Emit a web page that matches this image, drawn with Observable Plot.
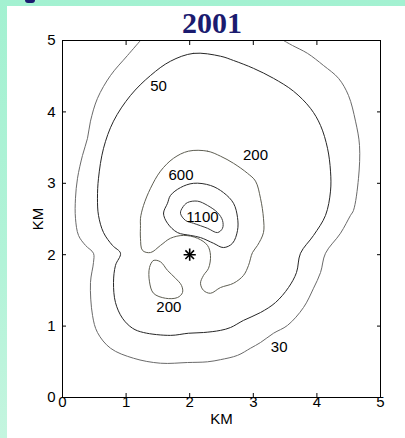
<!DOCTYPE html>
<html>
<head>
<meta charset="utf-8">
<script src="https://cdn.jsdelivr.net/npm/d3@7"></script>
<script src="https://cdn.jsdelivr.net/npm/@observablehq/plot@0.6"></script>
<style>
  html, body { margin: 0; padding: 0; width: 405px; height: 438px; overflow: hidden; }
  body { background: linear-gradient(to bottom, #a3f1d1 0%, #b2f3d8 60%, #c4f5df 100%); position: relative; font-family: "Liberation Sans", Arial, sans-serif; }
  #panel { position: absolute; left: 7px; top: 6px; right: 0; bottom: 0; background: #ffffff; }
  #blob { position: absolute; left: 25px; top: 0; width: 10px; height: 3px; background: #1b1b6f; border-radius: 0 0 3px 3px; }
  #title { position: absolute; left: 112px; width: 200px; top: 8px; text-align: center; font: bold 30px/30px "Liberation Serif", "Times New Roman", serif; color: #1b1b6f; }
  #chart { position: absolute; left: 0; top: 0; }
</style>
</head>
<body>
<div id="panel"></div>
<div id="blob"></div>
<div id="title">2001</div>
<div id="chart"></div>
<script>
// Axis ticks (KM)
const xTicks = [0, 1, 2, 3, 4, 5];
const yTicks = [0, 1, 2, 3, 4, 5];

// Contour polylines, [x KM, y KM]
const contour30 = [[1.226,5.0],[1.022,4.79],[0.755,4.51],[0.550,4.19],[0.440,3.87],[0.393,3.63],[0.314,3.39],[0.236,3.07],[0.204,2.79],[0.204,2.51],[0.252,2.27],[0.362,2.13],[0.487,2.02],[0.487,1.89],[0.440,1.61],[0.472,1.15],[0.550,0.91],[0.755,0.69],[1.116,0.55],[1.541,0.48],[1.965,0.49],[2.280,0.50],[2.484,0.53],[2.752,0.59],[2.956,0.69],[3.113,0.77],[3.318,0.90],[3.538,1.01],[3.789,1.26],[3.947,1.53],[4.057,1.75],[4.135,2.02],[4.371,2.30],[4.528,2.55],[4.575,2.62],[4.654,3.07],[4.670,3.53],[4.607,3.87],[4.497,4.23],[4.340,4.47],[4.104,4.65],[3.852,4.82],[3.616,4.93],[3.475,5.0]];
const contour50 = [[2.484,4.78],[2.060,4.82],[1.698,4.71],[1.384,4.51],[1.069,4.23],[0.802,3.87],[0.645,3.49],[0.566,3.07],[0.550,2.79],[0.566,2.55],[0.645,2.31],[0.786,2.13],[0.912,2.02],[0.833,1.85],[0.802,1.61],[0.833,1.33],[0.943,1.11],[1.101,0.97],[1.274,0.91],[1.698,0.87],[1.981,0.90],[2.217,0.91],[2.484,0.94],[2.642,0.98],[2.846,1.08],[3.113,1.19],[3.349,1.33],[3.553,1.54],[3.679,1.75],[3.742,2.02],[3.947,2.27],[4.135,2.55],[4.214,2.89],[4.214,3.17],[4.167,3.49],[4.057,3.81],[3.899,4.05],[3.632,4.29],[3.318,4.47],[3.003,4.61],[2.689,4.72]];
const contour200 = [[1.981,3.45],[2.280,3.45],[2.484,3.38],[2.689,3.28],[2.909,3.14],[3.035,3.03],[3.113,2.79],[3.160,2.51],[3.160,2.31],[3.066,2.13],[2.987,2.03],[2.925,1.85],[2.846,1.71],[2.689,1.60],[2.484,1.54],[2.327,1.46],[2.217,1.50],[2.170,1.60],[2.217,1.71],[2.296,1.81],[2.327,1.99],[2.280,2.13],[2.123,2.23],[1.903,2.27],[1.698,2.23],[1.541,2.13],[1.384,2.03],[1.258,2.06],[1.226,2.23],[1.226,2.41],[1.226,2.51],[1.274,2.69],[1.384,2.93],[1.541,3.17],[1.745,3.35]];
const contour200b = [[1.368,1.82],[1.431,1.92],[1.541,1.90],[1.651,1.78],[1.777,1.67],[1.871,1.57],[1.887,1.47],[1.808,1.40],[1.619,1.39],[1.431,1.46],[1.368,1.62]];
const contour600 = [[1.651,2.72],[1.588,2.58],[1.651,2.44],[1.808,2.31],[2.013,2.27],[2.170,2.24],[2.374,2.16],[2.531,2.10],[2.673,2.16],[2.752,2.34],[2.752,2.52],[2.689,2.72],[2.531,2.87],[2.327,2.97],[2.060,3.00],[1.855,2.94],[1.698,2.83]];
const contour1100 = [[1.965,2.73],[1.887,2.66],[1.855,2.58],[1.934,2.48],[2.060,2.44],[2.280,2.37],[2.437,2.31],[2.516,2.37],[2.516,2.48],[2.437,2.59],[2.280,2.69],[2.123,2.75]];

// Contour labels
const labelText = ["50", "200", "600", "1100", "200", "30"];
const labelX = [1.509, 3.035, 1.863, 2.201, 1.672, 3.407];
const labelY = [4.356, 3.39, 3.11, 2.52, 1.26, 0.70];

// Source marker
const sourceX = [2.0];
const sourceY = [2.0];

const toRows = (pts) => pts.map(([x, y]) => ({x, y}));
const openLines = [
  {pts: contour30, stroke: "#6a6a6a"}
];
const closedLines = [
  {pts: contour50, stroke: "#262626"},
  {pts: contour200, stroke: "#5e5e52"},
  {pts: contour200b, stroke: "#5e5e52"},
  {pts: contour600, stroke: "#2a2a2a"},
  {pts: contour1100, stroke: "#3a3a3a"}
];
const labels = labelText.map((t, i) => ({t, x: labelX[i], y: labelY[i]}));
const source = sourceX.map((x, i) => ({x, y: sourceY[i]}));
const fmt = (d) => String(d);

const chart = Plot.plot({
  width: 405,
  height: 438,
  marginLeft: 62,
  marginRight: 25,
  marginTop: 40,
  marginBottom: 41,
  style: {background: "transparent", fontFamily: "'Liberation Sans', Arial, sans-serif", fontSize: "15px", color: "black", overflow: "visible"},
  x: {domain: [0, 5]},
  y: {domain: [0, 5]},
  marks: [
    ...openLines.map(c => Plot.line(toRows(c.pts), {x: "x", y: "y", curve: "catmull-rom", stroke: c.stroke, strokeWidth: 1, clip: true})),
    ...closedLines.map(c => Plot.line(toRows(c.pts), {x: "x", y: "y", curve: "catmull-rom-closed", stroke: c.stroke, strokeWidth: 1, clip: true})),
    Plot.text(labels, {x: "x", y: "y", text: "t", fontSize: 15, fill: "black"}),
    Plot.dot(source, {x: "x", y: "y", symbol: "plus", r: 4, stroke: "black", strokeWidth: 1.6}),
    Plot.dot(source, {x: "x", y: "y", symbol: "times", r: 4, stroke: "black", strokeWidth: 1.6}),
    Plot.frame({stroke: "black", strokeWidth: 1}),
    Plot.axisX(xTicks, {anchor: "bottom", tickSize: -4, tickPadding: 3, tickFormat: fmt, fontSize: 15, label: "KM", labelArrow: "none", labelAnchor: "center", labelOffset: 26}),
    Plot.axisX(xTicks, {anchor: "top", tickSize: -4, text: null, label: null}),
    Plot.axisY(yTicks, {anchor: "left", tickSize: -4, tickPadding: 11, tickFormat: fmt, fontSize: 15, label: "KM", labelArrow: "none", labelAnchor: "center", labelOffset: 30}),
    Plot.axisY(yTicks, {anchor: "right", tickSize: -4, text: null, label: null})
  ]
});
document.getElementById("chart").appendChild(chart);
</script>
</body>
</html>
